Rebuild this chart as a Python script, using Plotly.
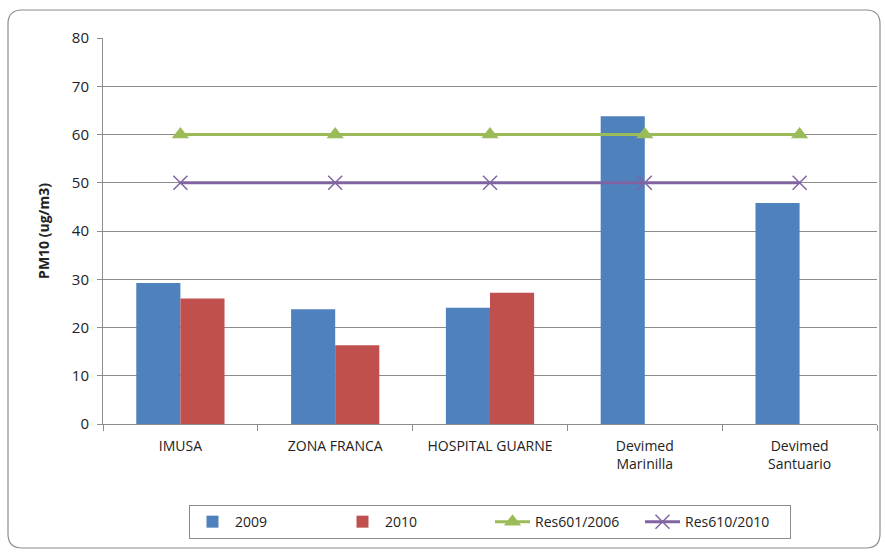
import plotly.graph_objects as go

categories = ["IMUSA", "ZONA FRANCA", "HOSPITAL GUARNE", "Devimed<br>Marinilla", "Devimed<br>Santuario"]
pm10_2009 = [29.2, 23.8, 24.1, 63.8, 45.8]
pm10_2010 = [26.0, 16.3, 27.2, None, None]
res601_2006 = [60, 60, 60, 60, 60]
res610_2010 = [50, 50, 50, 50, 50]
y_ticks = [0, 10, 20, 30, 40, 50, 60, 70, 80]

FONT = "Open Sans, Liberation Sans, sans-serif"
W, H = 885, 553
L, R, T, B = 103, 8, 38, 129
pw, ph = W - L - R, H - T - B

fig = go.Figure()
fig.add_trace(go.Bar(x=categories, y=pm10_2009, name="2009",
                     marker=dict(color="#4F81BD", line=dict(width=0))))
fig.add_trace(go.Bar(x=categories, y=pm10_2010, name="2010",
                     marker=dict(color="#C0504D", line=dict(width=0))))
fig.add_trace(go.Scatter(x=categories, y=res601_2006, name="Res601/2006", mode="lines+markers",
                         line=dict(color="#9BBB59", width=3),
                         marker=dict(symbol="triangle-up", size=15, color="#9BBB59")))
fig.add_trace(go.Scatter(x=categories, y=res610_2010, name="Res610/2010", mode="lines+markers",
                         line=dict(color="#8064A2", width=3),
                         marker=dict(symbol="x-thin", size=14, line=dict(color="#8064A2", width=1.5))))


def px_x(v):
    return (v - L) / pw


def px_y(v):
    return (H - B - v) / ph


# rounded outer frame, drawn in paper coordinates
x0, x1, y0, y1, r = 8, 880, 10, 548, 14
path = (
    f"M {px_x(x0 + r)},{px_y(y0)} L {px_x(x1 - r)},{px_y(y0)} "
    f"Q {px_x(x1)},{px_y(y0)} {px_x(x1)},{px_y(y0 + r)} "
    f"L {px_x(x1)},{px_y(y1 - r)} Q {px_x(x1)},{px_y(y1)} {px_x(x1 - r)},{px_y(y1)} "
    f"L {px_x(x0 + r)},{px_y(y1)} Q {px_x(x0)},{px_y(y1)} {px_x(x0)},{px_y(y1 - r)} "
    f"L {px_x(x0)},{px_y(y0 + r)} Q {px_x(x0)},{px_y(y0)} {px_x(x0 + r)},{px_y(y0)} Z"
)
fig.add_shape(type="path", path=path, xref="paper", yref="paper",
              line=dict(color="#8C8C8C", width=1.2), layer="below")

fig.update_layout(
    width=W, height=H,
    margin=dict(l=L, r=R, t=T, b=B),
    paper_bgcolor="white", plot_bgcolor="white",
    barmode="group", bargap=0.43, bargroupgap=0,
    font=dict(family=FONT, size=13, color="#222222"),
    showlegend=True,
    legend=dict(orientation="h", x=0.5, xanchor="center", y=-0.21, yanchor="top",
                bordercolor="#8C8C8C", borderwidth=1, font=dict(size=14),
                entrywidth=100, itemwidth=35),
    xaxis=dict(showgrid=False, showline=True, linecolor="#8C8C8C", linewidth=1,
               ticks="outside", tickson="boundaries", ticklen=6, tickcolor="#8C8C8C",
               tickfont=dict(size=14), ticklabelstandoff=9, range=[-0.5, 4.5]),
    yaxis=dict(range=[0, 80], tickvals=y_ticks, showgrid=True, gridcolor="#8C8C8C",
               gridwidth=1, showline=True, linecolor="#8C8C8C", linewidth=1,
               ticks="outside", ticklen=5, tickcolor="#8C8C8C", tickfont=dict(size=15),
               ticklabelstandoff=5, zeroline=False,
               title=dict(text="<b>PM10 (ug/m3)</b>", font=dict(size=14), standoff=18)),
)

fig.write_html("out.html")
